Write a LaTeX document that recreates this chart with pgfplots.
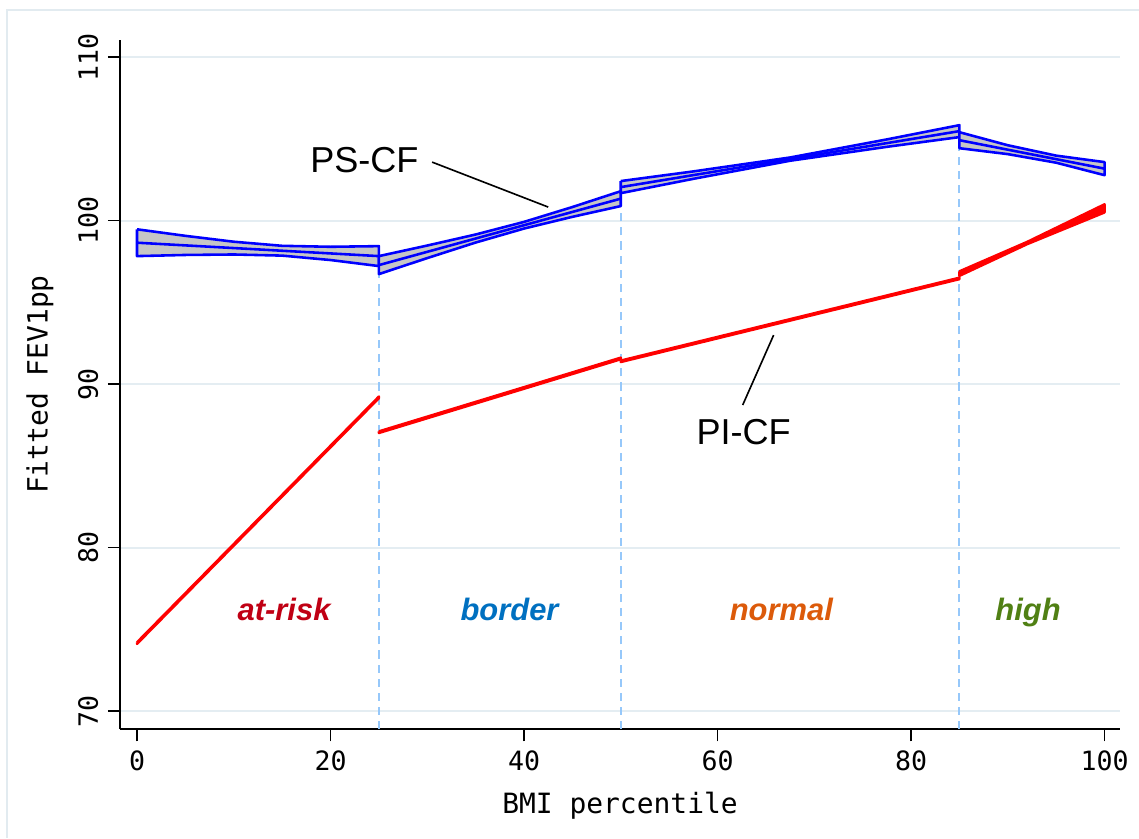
\documentclass[border=0pt]{standalone}
\usepackage{fontspec}
\setmainfont{DejaVu Sans Mono}
\newfontfamily\arialf{Liberation Sans}
\usepackage{pgfplots}
\pgfplotsset{compat=1.18}
\definecolor{framecol}{RGB}{226,235,240}
\definecolor{gridcol}{RGB}{228,237,242}
\definecolor{dashcol}{RGB}{150,200,250}
\definecolor{bandgray}{RGB}{198,198,198}
\definecolor{catred}{RGB}{192,0,20}
\definecolor{catblue}{RGB}{0,112,192}
\definecolor{catorange}{RGB}{220,90,10}
\definecolor{catgreen}{RGB}{80,128,20}
\begin{document}
\begin{tikzpicture}
\path[use as bounding box] (-44.24pt,-40.19pt) rectangle (375.7pt,268.8pt);
\draw[framecol, line width=0.6pt] (-41.66pt,-40.19pt) -- (-41.66pt,265.1pt) -- (375.7pt,265.1pt);
\begin{axis}[
  scale only axis, width=368.7pt, height=254pt,
  xmin=-1.76, xmax=101.6, ymin=68.9, ymax=111.04,
  axis x line*=bottom, axis y line*=left,
  axis line style={black, line width=0.6pt},
  xtick={0,20,...,100}, ytick={70,80,...,110},
  tick align=outside, major tick length=4.5pt,
  tick style={black, line width=0.6pt},
  ymajorgrids, grid style={gridcol, line width=0.8pt},
  ticklabel style={font=\fontsize{9.8}{11}\selectfont},
  /pgf/number format/assume math mode=true,
  yticklabel style={rotate=90, anchor=south},
  xlabel={BMI percentile}, ylabel={Fitted FEV1pp},
  label style={font=\fontsize{10.3}{12}\selectfont},
  xlabel style={at={(axis description cs:0.5,-0.1118)}, anchor=center},
  ylabel style={at={(axis description cs:-0.080,0.5)}, anchor=center},
]
% vertical dashed separators
\addplot[dashcol, dash pattern=on 3pt off 2.2pt, line width=0.7pt] coordinates {(25,68.9) (25,96.73)};
\addplot[dashcol, dash pattern=on 3pt off 2.2pt, line width=0.7pt] coordinates {(50,68.9) (50,100.89)};
\addplot[dashcol, dash pattern=on 3pt off 2.2pt, line width=0.7pt] coordinates {(85,68.9) (85,104.43)};

% PS-CF bands
\addplot[draw=blue, fill=bandgray, line width=0.95pt, line join=round] coordinates {
 (0,99.47) (5,99.07) (10,98.71) (15,98.46) (20,98.40) (25,98.44)
 (25,97.22) (20,97.59) (15,97.86) (10,97.93) (5,97.90) (0,97.83) (0,99.47)};
\addplot[blue, line width=0.95pt] coordinates {(0,98.65) (25,97.83)};

\addplot[draw=blue, fill=bandgray, line width=0.95pt, line join=round] coordinates {
 (25,97.83) (30,98.477) (35,99.152) (40,99.923) (45,100.832) (50,101.80)
 (50,100.89) (45,100.232) (40,99.515) (35,98.66) (30,97.709) (25,96.73) (25,97.83)};
\addplot[blue, line width=0.95pt] coordinates {(25,97.28) (50,101.345)};

\addplot[draw=blue, fill=bandgray, line width=0.95pt, line join=round] coordinates {
 (50,102.42) (57.5,103.011) (67.5,103.863) (77.5,104.968) (85,105.84)
 (85,105.11) (77.5,104.514) (67.5,103.663) (57.5,102.557) (50,101.68) (50,102.42)};
\addplot[blue, line width=0.95pt] coordinates {(50,102.05) (85,105.475)};

\addplot[draw=blue, fill=bandgray, line width=0.95pt, line join=round] coordinates {
 (85,105.41) (90,104.611) (95,103.976) (100,103.58)
 (100,102.78) (95,103.544) (90,104.069) (85,104.43) (85,105.41)};
\addplot[blue, line width=0.95pt] coordinates {(85,104.92) (100,103.18)};

% PI-CF bands
\addplot[draw=red, fill=red, line width=0.9pt, line join=round] coordinates {
 (0,74.21) (25,89.24) (25,89.14) (0,74.11) (0,74.21)};
\addplot[draw=red, fill=red, line width=0.9pt, line join=round] coordinates {
 (25,87.11) (50,91.62) (50,91.52) (25,87.01) (25,87.11)};
\addplot[draw=red, fill=red, line width=0.9pt, line join=round] coordinates {
 (50,91.44) (85,96.51) (85,96.42) (50,91.35) (50,91.44)};
\addplot[draw=red, fill=red, line width=0.9pt, line join=round] coordinates {
 (85,96.90) (92,98.70) (100,101.0) (100,100.50) (92,98.56) (85,96.62) (85,96.90)};

% annotations
\node[font=\arialf\fontsize{13.3}{15}\selectfont] at (axis cs:23.5,103.7) {PS-CF};
\draw[black, line width=0.6pt] (axis cs:30.5,103.58) -- (axis cs:42.5,100.83);
\node[font=\arialf\fontsize{13.3}{15}\selectfont] at (axis cs:62.7,87.06) {PI-CF};
\draw[black, line width=0.6pt] (axis cs:65.8,93.0) -- (axis cs:62.6,88.72);

\node[font=\arialf\bfseries\itshape\fontsize{11.4}{13}\selectfont, text=catred, anchor=base] at (axis cs:15.2,75.55) {at-risk};
\node[font=\arialf\bfseries\itshape\fontsize{11.4}{13}\selectfont, text=catblue, anchor=base] at (axis cs:38.5,75.55) {border};
\node[font=\arialf\bfseries\itshape\fontsize{11.4}{13}\selectfont, text=catorange, anchor=base] at (axis cs:66.6,75.55) {normal};
\node[font=\arialf\bfseries\itshape\fontsize{11.4}{13}\selectfont, text=catgreen, anchor=base] at (axis cs:92.1,75.55) {high};
\end{axis}
\end{tikzpicture}
\end{document}
